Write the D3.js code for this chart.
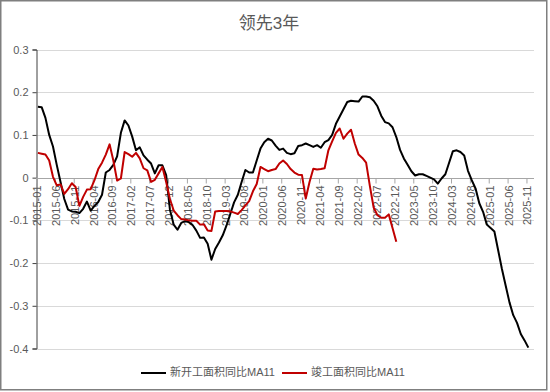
<!DOCTYPE html>
<html>
<head>
<meta charset="utf-8">
<script src="https://cdn.jsdelivr.net/npm/d3@7"></script>
<style>
  html, body { margin: 0; padding: 0; background: #fff; }
  svg { display: block; font-family: "Liberation Sans", Arial, "Noto Sans CJK SC", sans-serif; }
</style>
</head>
<body>
<svg id="chart" width="550" height="392"></svg>
<script>
// ---- data ----
const title = "领先3年";
const seriesNames = ["新开工面积同比MA11", "竣工面积同比MA11"];
const startYear = 2015, endYear = 2025;
const months = [];
for (let yr = startYear; yr <= endYear; yr++) for (let m = 1; m <= 12; m++) months.push(yr + "-" + String(m).padStart(2, "0"));

const tickLabels = ["2015-01","2015-06","2015-11","2016-04","2016-09","2017-02","2017-07","2017-12","2018-05","2018-10","2019-03","2019-08","2020-01","2020-06","2020-11","2021-04","2021-09","2022-02","2022-07","2022-12","2023-05","2023-10","2024-03","2024-08","2025-01","2025-06","2025-11"];
const yTicks = [0.3, 0.2, 0.1, 0, -0.1, -0.2, -0.3, -0.4];

const newStarts = [
 0.166,0.165,0.14,0.1,0.073,0.03,-0.01,-0.05,-0.075,-0.079,
 -0.08,-0.083,-0.073,-0.056,-0.077,-0.066,-0.057,-0.04,0.012,0.018,
 0.03,0.05,0.105,0.134,0.122,0.096,0.064,0.071,0.052,0.042,
 0.033,0.01,0.029,0.029,0.006,-0.075,-0.11,-0.122,-0.106,-0.102,
 -0.104,-0.111,-0.124,-0.141,-0.14,-0.155,-0.192,-0.167,-0.152,-0.135,
 -0.112,-0.085,-0.058,-0.04,-0.01,0.018,0.012,0.012,0.04,0.068,
 0.083,0.091,0.087,0.075,0.065,0.068,0.058,0.055,0.057,0.074,
 0.076,0.08,0.076,0.072,0.076,0.07,0.083,0.088,0.1,0.126,
 0.143,0.16,0.177,0.18,0.179,0.178,0.19,0.19,0.188,0.18,
 0.167,0.145,0.13,0.127,0.118,0.095,0.065,0.045,0.03,0.015,
 0.005,0.008,0.008,0.004,0.0,-0.004,-0.014,-0.002,0.008,0.035,
 0.062,0.064,0.06,0.052,0.016,-0.006,-0.025,-0.06,-0.08,-0.11,
 -0.118,-0.126,-0.17,-0.214,-0.253,-0.292,-0.322,-0.34,-0.366,-0.381,
 -0.398
];
const completions = [
 0.058,0.056,0.054,0.04,0.002,-0.018,-0.016,-0.038,-0.027,-0.013,
 -0.022,-0.066,-0.045,-0.028,-0.027,-0.006,0.02,0.035,0.054,0.078,
 0.04,-0.007,-0.002,0.06,0.055,0.049,0.058,0.045,0.022,0.017,
 -0.01,-0.005,0.01,0.025,-0.01,-0.05,-0.077,-0.088,-0.097,-0.098,
 -0.1,-0.101,-0.101,-0.11,-0.109,-0.124,-0.125,-0.079,-0.078,-0.078,
 -0.078,-0.079,-0.082,-0.085,-0.076,-0.065,-0.055,-0.032,-0.015,0.025,
 0.02,0.015,0.018,0.02,0.033,0.04,0.032,0.02,0.012,0.007,
 0.006,-0.049,-0.01,0.021,0.019,0.02,0.022,0.064,0.085,0.105,
 0.115,0.091,0.103,0.112,0.08,0.054,0.046,0.035,-0.02,-0.07,
 -0.088,-0.094,-0.094,-0.086,-0.118,-0.15
];
const colors = ["#000000", "#C00000"];

// ---- layout ----
const svg = d3.select("#chart");
const plotLeft = 36, plotRight = 534, plotTop = 49.5, plotBottom = 348.5;
const textColor = "#595959";

svg.append("rect").attr("x", 0).attr("y", 0).attr("width", 550).attr("height", 392).attr("fill", "#fff");
svg.append("rect").attr("x", 0.75).attr("y", 0.75).attr("width", 546).attr("height", 389)
  .attr("fill", "none").attr("stroke", "#7f7f7f").attr("stroke-width", 1.5);

const x = d3.scaleBand().domain(months).range([plotLeft, plotRight]).paddingInner(0).paddingOuter(0);
const cx = d => x(d) + x.bandwidth() / 2;
const y = d3.scaleLinear().domain([-0.4, 0.3]).range([plotBottom, plotTop]);

// gridlines
svg.append("g").selectAll("line").data(yTicks.filter(t => t !== 0)).join("line")
  .attr("x1", plotLeft).attr("x2", plotRight)
  .attr("y1", d => Math.round(y(d)) + 0.5).attr("y2", d => Math.round(y(d)) + 0.5)
  .attr("stroke", "#d9d9d9").attr("stroke-width", 1);

// y axis
const yAxis = d3.axisLeft(y).tickValues(yTicks).tickSize(4).tickPadding(4)
  .tickFormat(d => d === 0 ? "0" : String(+d.toFixed(1)));
const gy = svg.append("g").attr("transform", `translate(${plotLeft + 0.5},0)`).call(yAxis);
gy.select(".domain").attr("stroke", "#404040");
gy.selectAll(".tick line").attr("stroke", "#404040");
gy.selectAll(".tick text").attr("fill", textColor).attr("font-size", "11px")
  .attr("font-family", "'Liberation Sans', Arial, sans-serif");

// x axis at zero
const zeroY = Math.round(y(0)) + 0.5;
svg.append("line").attr("x1", plotLeft).attr("x2", plotRight).attr("y1", zeroY).attr("y2", zeroY)
  .attr("stroke", "#a6a6a6").attr("stroke-width", 1.2);
const gx = svg.append("g");
gx.selectAll("line").data(tickLabels).join("line")
  .attr("x1", d => x(d) + 0.5).attr("x2", d => x(d) + 0.5)
  .attr("y1", zeroY).attr("y2", zeroY + 5)
  .attr("stroke", "#a6a6a6");
gx.selectAll("text").data(tickLabels).join("text")
  .attr("transform", d => `translate(${cx(d) + 0.2},${zeroY + 7}) rotate(-90)`)
  .attr("text-anchor", "end").attr("dominant-baseline", "middle")
  .attr("fill", textColor).attr("font-size", "11px")
  .text(d => d);

// lines
const line = d3.line().x((d, i) => cx(months[i])).y(d => y(d));
[newStarts, completions].forEach((s, k) => {
  svg.append("path").datum(s).attr("d", line)
    .attr("fill", "none").attr("stroke", colors[k]).attr("stroke-width", 2)
    .attr("stroke-linejoin", "round").attr("stroke-linecap", "butt");
});

// title
svg.append("text").attr("x", 269).attr("y", 29).attr("text-anchor", "middle")
  .attr("fill", textColor).attr("font-size", "17px").text(title);

// legend
const legendY = 373;
const legendItems = [{ x: 141, name: seriesNames[0], c: colors[0] }, { x: 282, name: seriesNames[1], c: colors[1] }];
const lg = svg.append("g").selectAll("g").data(legendItems).join("g");
lg.append("line").attr("x1", d => d.x).attr("x2", d => d.x + 25).attr("y1", legendY).attr("y2", legendY)
  .attr("stroke", d => d.c).attr("stroke-width", 2);
lg.append("text").attr("x", d => d.x + 29).attr("y", legendY).attr("dominant-baseline", "middle")
  .attr("fill", textColor).attr("font-size", "11px").text(d => d.name);
</script>
</body>
</html>
